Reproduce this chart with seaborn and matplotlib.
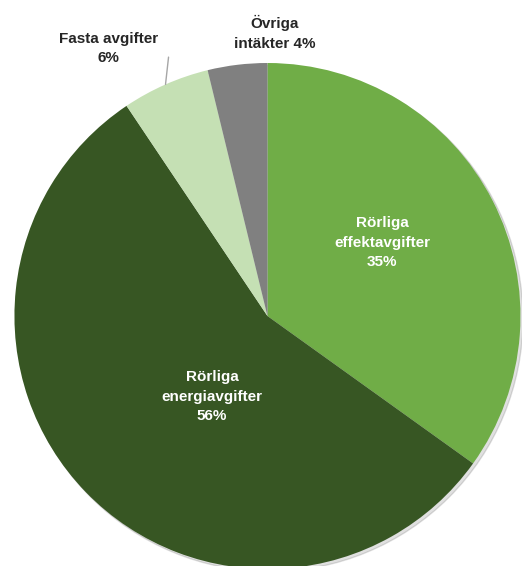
import numpy as np
import matplotlib
matplotlib.use("Agg")
import matplotlib.pyplot as plt
import seaborn as sns

sns.set_theme(style="white")
plt.rcParams['font.family'] = ['Liberation Sans', 'DejaVu Sans']

# data (shares, labels show rounded percent)
labels = ["Rörliga\neffektavgifter", "Rörliga\nenergiavgifter", "Fasta avgifter", "Övriga\nintäkter"]
shares = [34.9, 55.7, 5.6, 3.8]
pct_text = ["35%", "56%", "6%", "4%"]
colors = sns.color_palette(["#70AD47", "#375623", "#C5E0B4", "#808080"])

fig = plt.figure(figsize=(5.22, 5.66), dpi=100)
ax = fig.add_axes([0, 0, 1, 1])

# faint shadow behind the pie
ax.add_patch(plt.Circle((0.010, -0.010), 1.0, color="#000000", alpha=0.12, zorder=0))

wedges, _ = ax.pie(shares, colors=colors, startangle=90, counterclock=False,
                   radius=1.0, wedgeprops=dict(linewidth=0))

fs = 11
ls = 1.5

# inside labels
ax.text(0.453, 0.289, labels[0] + "\n" + pct_text[0], ha="center", va="center",
        color="white", fontsize=fs, fontweight="bold", linespacing=ls)
ax.text(-0.219, -0.320, labels[1] + "\n" + pct_text[1], ha="center", va="center",
        color="white", fontsize=fs, fontweight="bold", linespacing=ls)

# fasta avgifter with leader line from the wedge edge
a = np.deg2rad((wedges[2].theta1 + wedges[2].theta2) / 2)
p0 = np.array([np.cos(a), np.sin(a)])
ax.plot([p0[0], p0[0] + 0.012], [p0[1], p0[1] + 0.108], color="#A6A6A6", lw=1)
ax.text(-0.628, 1.057, labels[2] + "\n" + pct_text[2], ha="center", va="center",
        color="#262626", fontsize=fs, fontweight="bold", linespacing=ls)

# övriga intäkter
ax.text(0.03, 1.118, labels[3] + " " + pct_text[3], ha="center", va="center",
        color="#262626", fontsize=fs, fontweight="bold", linespacing=ls)

ax.set_xlim(-1.057, 1.006)
ax.set_ylim(-0.988, 1.249)
ax.set_aspect("equal")
ax.axis("off")

fig.savefig("out.png", dpi=100)
